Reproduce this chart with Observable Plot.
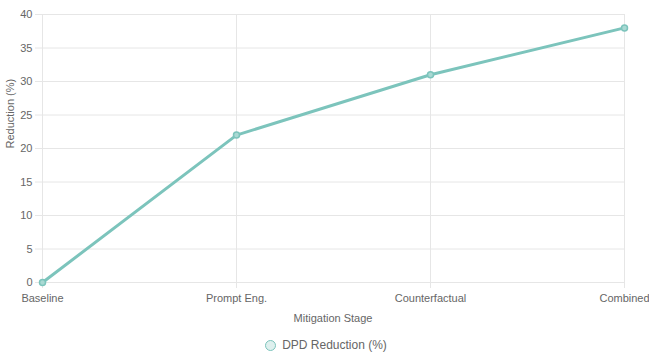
<!DOCTYPE html>
<html>
<head>
<meta charset="utf-8">
<script src="https://cdn.jsdelivr.net/npm/d3@7"></script>
<script src="https://cdn.jsdelivr.net/npm/@observablehq/plot@0.6"></script>
<style>
  body { margin: 0; background: #fff; font-family: "Liberation Sans", Arial, sans-serif; }
  #legend { width: 649px; display: flex; justify-content: center; align-items: center; padding-top: 7px; line-height: 16px; font-size: 12px; color: #666; }
  #legend .sw { width: 9px; height: 9px; border-radius: 50%; border: 1.5px solid #7cc4bc; background: rgba(124,196,188,0.25); margin-right: 6px; margin-left: 3px; }
</style>
</head>
<body>
<div id="chart"></div>
<div id="legend"><span class="sw"></span><span>DPD Reduction (%)</span></div>
<script>
const stages = ["Baseline", "Prompt Eng.", "Counterfactual", "Combined"];
const reduction = [0, 22, 31, 38];
const yTicks = [0, 5, 10, 15, 20, 25, 30, 35, 40];
const seriesName = "DPD Reduction (%)";
const xTitle = "Mitigation Stage";
const yTitle = "Reduction (%)";

const data = stages.map((s, i) => ({stage: s, value: reduction[i]}));
const lineColor = "#7cc4bc";
const gridColor = "#e6e6e6";

const chart = Plot.plot({
  width: 649,
  height: 330,
  marginLeft: 41,
  marginRight: 25,
  marginTop: 14,
  marginBottom: 48,
  style: {fontFamily: "'Liberation Sans', Arial, sans-serif", fontSize: "11px", color: "#666", background: "#fff"},
  x: {type: "point", domain: stages, padding: 0, label: null},
  y: {domain: [0, 40], label: null},
  marks: [
    Plot.ruleY(yTicks, {stroke: gridColor}),
    Plot.ruleX(stages, {stroke: gridColor}),
    Plot.axisY({ticks: yTicks, tickSize: 6, tickPadding: 3, stroke: gridColor, fill: "#666", label: null}),
    Plot.axisX({tickSize: 6, tickPadding: 6, stroke: gridColor, fill: "#666", label: null}),
    Plot.text([yTitle], {frameAnchor: "left", dx: -31, rotate: -90, fill: "#666"}),
    Plot.text([xTitle], {frameAnchor: "bottom", dy: 39, fill: "#666"}),
    Plot.line(data, {x: "stage", y: "value", stroke: lineColor, strokeWidth: 3}),
    Plot.dot(data, {x: "stage", y: "value", r: 3, stroke: lineColor, strokeWidth: 1.5, fill: "#a9d9d3"})
  ]
});
document.getElementById("chart").appendChild(chart);
</script>
</body>
</html>
